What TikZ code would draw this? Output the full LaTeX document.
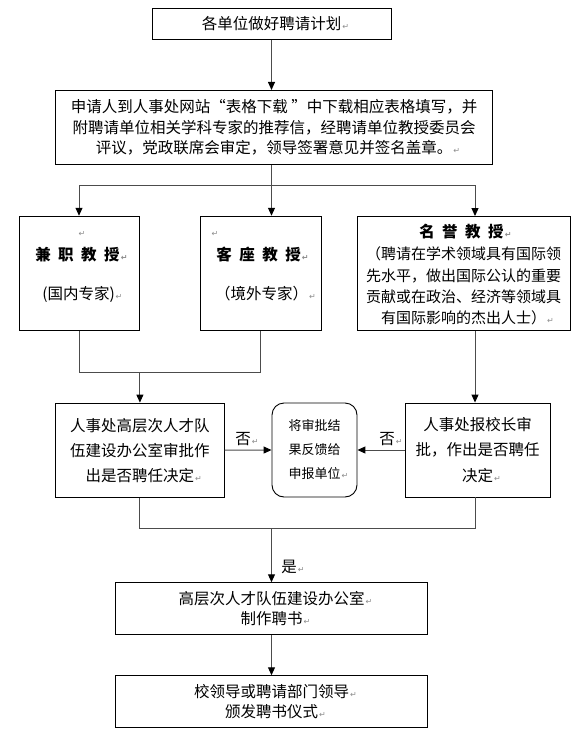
\documentclass[tikz,border=0pt]{standalone}
\usepackage{fontspec}
\newfontfamily\cjk{Noto Sans CJK SC}
\newfontfamily\dvs{DejaVu Sans}
\usetikzlibrary{arrows.meta}
\newcommand\rmk{\rlap{\hspace{1pt}{\dvs\color{black!45}\fontsize{8}{8}\selectfont ↵}}}
\newcommand\gapx{\hspace{7.5pt}}
\begin{document}
\begin{tikzpicture}[x=1pt,y=-1pt,
  box/.style={draw, line width=0.9pt, inner sep=0pt, align=center,
    font=\cjk\fontsize{15.5}{21}\selectfont},
  txt/.style={inner sep=0pt, align=center, font=\cjk\fontsize{15.5}{21}\selectfont},
  ttl/.style={inner sep=0pt, align=center, font=\cjk\bfseries\fontsize{15.5}{21}\selectfont},
  conn/.style={draw=black!70, line width=1pt, line join=miter},
  arr/.style={conn, -{Triangle[width=7pt,length=8pt,color=black]}}]
\useasboundingbox (0,0) rectangle (585,736);
\fill[white] (0,0) rectangle (585,736);

% top boxes
\node[box, minimum width=239pt, minimum height=31pt] (b1) at (271.5,23.8) {各单位做好聘请计划\rmk};
\node[box, minimum width=437pt, minimum height=74pt,
  font=\cjk\fontsize{15.5}{20.5}\selectfont] (b2) at (274.1,127.4)
  {申请人到人事处网站“表格下载 ”中下载相应表格填写，并\\
   附聘请单位相关学科专家的推荐信，经聘请单位教授委员会\\
   评议，党政联席会审定，领导签署意见并签名盖章。\rmk};

% three categories
\node[box, minimum width=120pt, minimum height=114pt] (b3) at (79.3,273.2) {};
\node[txt, anchor=west] (t3a) at (77,234) {\rmk};
\node[ttl] (t3b) at (77.5,255) {兼\gapx 职\gapx 教\gapx 授\rmk};
\node[txt] (t3c) at (78.5,294) {(国内专家)\rmk};

\node[box, minimum width=120.7pt, minimum height=114pt] (b4) at (261,273.2) {};
\node[txt, anchor=west] (t4a) at (210,234) {\rmk};
\node[ttl] (t4b) at (258.7,255) {客\gapx 座\gapx 教\gapx 授\rmk};
\node[txt] (t4c) at (261.5,294) {（境外专家）\rmk};

\node[box, minimum width=213pt, minimum height=114pt] (b5) at (463.5,273.5) {};
\node[ttl] (t5a) at (461.5,232) {名\gapx 誉\gapx 教\gapx 授\rmk};
\node[txt, font=\cjk\fontsize{15}{21.3}\selectfont] (t5b) at (463.5,286)
  {（聘请在学术领域具有国际领\\
   先水平，做出国际公认的重要\\
   贡献或在政治、经济等领域具\\
   有国际影响的杰出人士）\rmk};

% decision row
\node[box, minimum width=168.7pt, minimum height=94.3pt,
  font=\cjk\fontsize{15.5}{25}\selectfont] (b6) at (139.9,450.2)
  {人事处高层次人才队\\伍建设办公室审批作\\出是否聘任决定\rmk};
\node[box, rounded corners=12pt, minimum width=85pt, minimum height=94pt,
  font=\cjk\fontsize{13}{24}\selectfont] (b7) at (314.5,450)
  {将审批结\\果反馈给\\申报单位\rmk};
\node[box, minimum width=145pt, minimum height=94pt,
  font=\cjk\fontsize{15.5}{25.5}\selectfont] (b8) at (477.5,450)
  {人事处报校长审\\批，作出是否聘任\\决定\rmk};

% final boxes
\node[box, minimum width=312.4pt, minimum height=51.6pt,
  font=\cjk\fontsize{15.5}{20}\selectfont] (b9) at (271.5,608.5)
  {高层次人才队伍建设办公室\rmk\\制作聘书\rmk};
\node[box, minimum width=312.4pt, minimum height=52pt,
  font=\cjk\fontsize{15.5}{20}\selectfont] (b10) at (271.5,701.7)
  {校领导或聘请部门领导\rmk\\颁发聘书仪式\rmk};

% labels
\node[txt] (n1) at (243,439) {否\rmk};
\node[txt] (n2) at (387,439) {否\rmk};
\node[txt] (n3) at (289,567) {是\rmk};

% connectors
\coordinate (j1) at (271.5,185);
\coordinate (jl) at (79,185);
\coordinate (jr) at (475,185);
\draw[arr] (b1.south) -- (b1.south |- b2.north);
\draw[conn] (j1 |- b2.south) -- (j1);
\draw[conn] (jl) -- (jr);
\draw[arr] (jl) -- (jl |- b3.north);
\draw[arr] (j1) -- (j1 |- b4.north);
\draw[arr] (jr) -- (jr |- b5.north);

\coordinate (k1) at (79,372);
\coordinate (k2) at (260.6,372);
\draw[conn] (k1 |- b3.south) -- (k1) -- (k2) -- (k2 |- b4.south);
\draw[arr] (b6.north |- k1) -- (b6.north);
\draw[arr] (jr |- b5.south) -- (jr |- b8.north);
\draw[arr] (b6.east) -- (b7.west);
\draw[arr] (b8.west) -- (b7.east);

\coordinate (m1) at (139.5,528);
\coordinate (m2) at (475,528);
\draw[conn] (m1 |- b6.south) -- (m1) -- (m2) -- (m2 |- b8.south);
\draw[arr] (b9.north |- m1) -- (b9.north);
\draw[arr] (b9.south) -- (b10.north);
\end{tikzpicture}
\end{document}
